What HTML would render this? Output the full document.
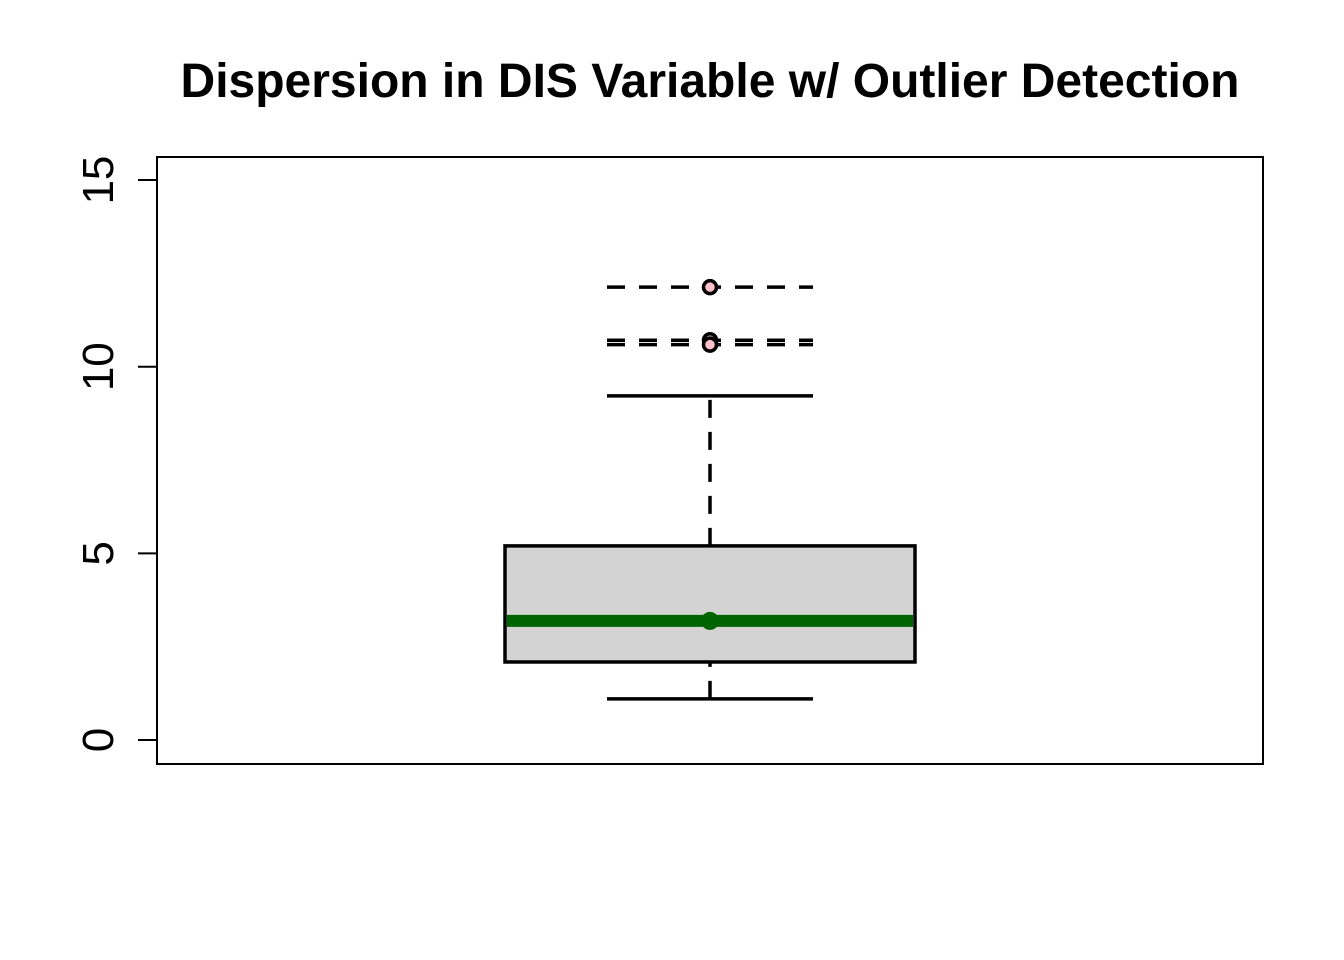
<!DOCTYPE html>
<html><head><meta charset="utf-8"><style>
body{margin:0;background:#fff}
svg{display:block;font-family:"Liberation Sans",Arial,sans-serif}
</style></head><body>
<svg id="chart" width="1344" height="960" viewBox="0 0 1344 960" xmlns="http://www.w3.org/2000/svg">
<rect width="1344" height="960" fill="#fff"/>
<text x="710" y="97" text-anchor="middle" font-size="48" font-weight="bold">Dispersion in DIS Variable w/ Outlier Detection</text>
<rect x="157" y="157" width="1106" height="607" fill="none" stroke="#000" stroke-width="2"/>
<g id="yaxis"></g>
<g id="marks"></g>
</svg>
<script>
const yTicks = [0, 5, 10, 15];
const stats = [1.10, 2.09, 3.19, 5.20, 9.22]; // lower whisker, q1, median, q3, upper whisker
const outliers = [12.13, 10.71, 10.59];

const y = v => 740 - v * 37.33;
const NS = "http://www.w3.org/2000/svg";
function mk(tag, attrs, parent){
  const e = document.createElementNS(NS, tag);
  for (const k in attrs) e.setAttribute(k, attrs[k]);
  parent.appendChild(e); return e;
}
const ax = document.getElementById('yaxis');
const m = document.getElementById('marks');
mk('line',{x1:157,x2:157,y1:y(yTicks[0]),y2:y(yTicks[yTicks.length-1]),stroke:'#000','stroke-width':2},ax);
yTicks.forEach(t=>{
  const l = mk('line',{x1:138,x2:157,y1:y(t),y2:y(t),stroke:'#000','stroke-width':2},ax);
  
  
  const tx = mk('text',{x:113,y:y(t),'font-size':44,'text-anchor':'middle',transform:`rotate(-90 113 ${y(t)})`},ax);
  
  
  tx.textContent = t;
});
const cx = 710, bl = 505, br = 915, wl = 607, wr = 813;
const w1 = mk('line',{x1:cx,x2:cx,y1:y(stats[3]),y2:y(stats[4]),stroke:'#000','stroke-width':3.5,'stroke-dasharray':'18 14'},m);


const w2 = mk('line',{x1:cx,x2:cx,y1:y(stats[0]),y2:y(stats[1]),stroke:'#000','stroke-width':3.5,'stroke-dasharray':'18 14'},m);


[stats[0], stats[4]].forEach(v=>{
  const c = mk('line',{x1:wl,x2:wr,y1:y(v),y2:y(v),stroke:'#000','stroke-width':3.5},m);
  
  
});
const box = mk('rect',{x:bl,y:y(stats[3]),width:br-bl,height:y(stats[1])-y(stats[3]),fill:'#d3d3d3',stroke:'#000','stroke-width':3.5},m);


const med = mk('line',{x1:bl+2,x2:br-2,y1:y(stats[2]),y2:y(stats[2]),stroke:'#006400','stroke-width':12},m);


const md = mk('circle',{cx:cx,cy:y(stats[2]),r:9,fill:'#006400'},m);


outliers.forEach(v=>{
  const l = mk('line',{x1:wl,x2:wr,y1:y(v),y2:y(v),stroke:'#000','stroke-width':3.5,'stroke-dasharray':'18 14'},m);
  
  
});
outliers.forEach(v=>{
  const c = mk('circle',{cx:cx,cy:y(v),r:6.5,fill:'#ffc0cb',stroke:'#000','stroke-width':3.5},m);
  
  
});
</script>
</body></html>
